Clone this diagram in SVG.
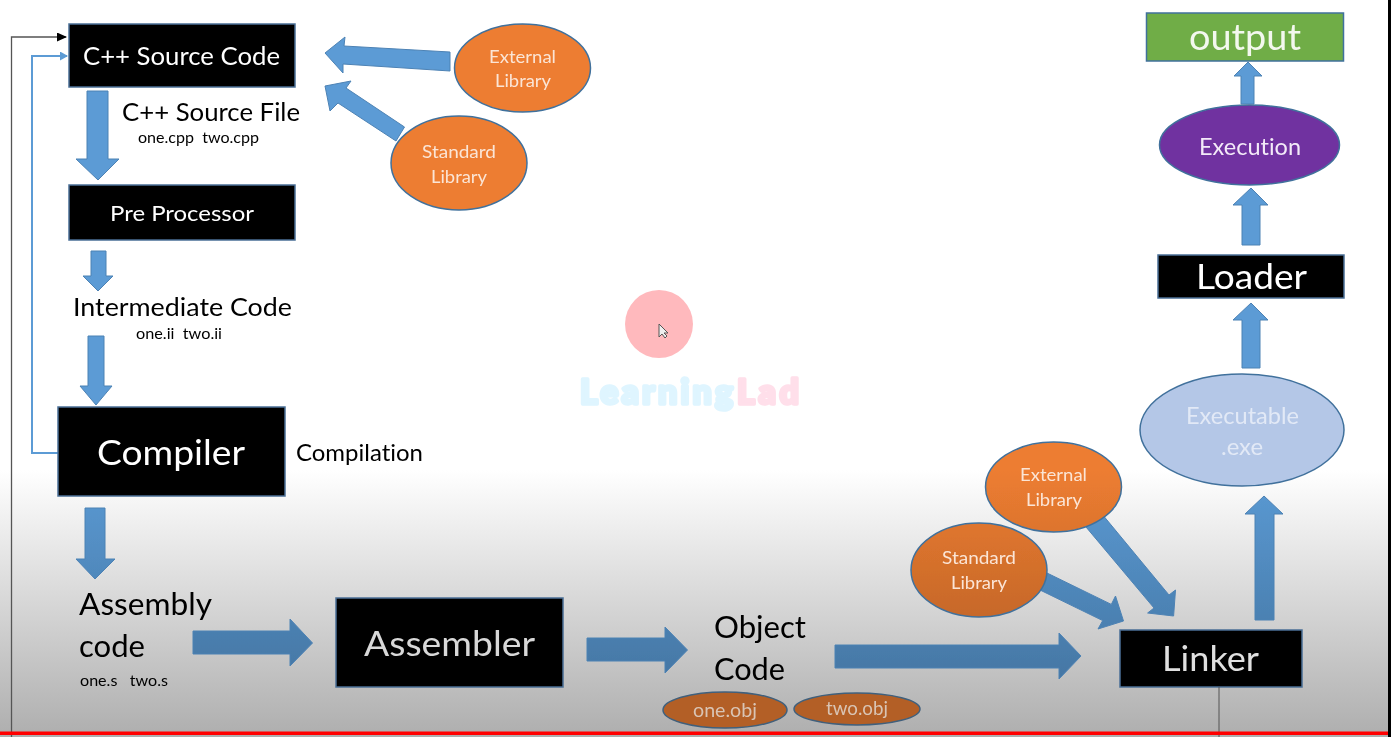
<svg xmlns="http://www.w3.org/2000/svg" width="1391" height="737" viewBox="0 0 1391 737">
<defs>
<linearGradient id="bg" x1="0" y1="0" x2="0" y2="1"><stop offset="0" stop-color="#ffffff"/><stop offset="0.638" stop-color="#ffffff"/><stop offset="1" stop-color="#aeaeae"/></linearGradient>
<linearGradient id="ag" gradientUnits="userSpaceOnUse" x1="0" y1="470" x2="0" y2="735"><stop offset="0" stop-color="#5b9bd5"/><stop offset="1" stop-color="#3f6d97"/></linearGradient>
<linearGradient id="og" gradientUnits="userSpaceOnUse" x1="0" y1="470" x2="0" y2="735"><stop offset="0" stop-color="#ed7d31"/><stop offset="1" stop-color="#a85823"/></linearGradient>
<filter id="soft" filterUnits="userSpaceOnUse" x="0" y="0" width="1391" height="737"><feGaussianBlur stdDeviation="0.45"/></filter>
<marker id="mk" markerWidth="10" markerHeight="9" refX="9" refY="4.500" orient="auto" markerUnits="userSpaceOnUse"><path d="M0 0L10 4.500L0 9Z" fill="#000"/></marker>
<marker id="mb" markerWidth="8" markerHeight="9" refX="7" refY="4.500" orient="auto" markerUnits="userSpaceOnUse"><path d="M0 0L8 4.500L0 9Z" fill="#5b9bd5"/></marker>
</defs>
<style>
text{font-family:"Lato","Liberation Sans",sans-serif;font-variant-ligatures:none;white-space:pre;text-anchor:start}
.box{fill:#000;stroke:#4a6f96;stroke-width:1.5}
.arr{fill:url(#ag);stroke:#4d82b4;stroke-width:1}
.org{fill:url(#og);stroke:#41719c;stroke-width:1.5}
.w{fill:#fff}.k{fill:#000}.lo{fill:#fbe5d6}
</style>
<rect width="1391" height="737" fill="url(#bg)"/>
<g filter="url(#soft)">
<g id="connectors">
<path d="M11.500 737V37H66" fill="none" stroke="#555" stroke-width="1.300" marker-end="url(#mk)"/>
<path d="M58 453H32V56H67" fill="none" stroke="#5b9bd5" stroke-width="2" marker-end="url(#mb)"/>
<path class="arr" d="M87 91H108V159H119L98 180L76 159H87Z"/>
<path class="arr" d="M91 251H106V276H113L98 291L83 276H91Z"/>
<path class="arr" d="M88 336H104V386H112L96 405L80 386H88Z"/>
<path class="arr" d="M85 508H105V559H115L95 579L76 559H85Z"/>
<path class="arr" d="M193 631H290V619L312.500 643L290 666V654H193Z"/>
<path class="arr" d="M587 638H665V627L687.500 650L665 673V661H587Z"/>
<path class="arr" d="M835 645H1059V633L1081 656L1059 679V668H835Z"/>
<path class="arr" d="M450 52L344 46L345 37L325 53L343 73L343 64L450 71Z"/>
<path class="arr" d="M404.500 127L346 88L351 81L325 86L330 111L338 103L396 141Z"/>
<path class="arr" d="M1047 573L1111.300 604.400L1115.500 596L1123.500 621L1098 629L1102.700 620.600L1040 590Z"/>
<path class="arr" d="M1102 514L1169 595L1175.500 590L1173.600 616L1147.600 613L1154 608L1086 527Z"/>
<path class="arr" d="M1255 620H1274V514H1283L1264 496L1245 514H1255Z"/>
<path class="arr" d="M1242 368H1260V320H1268L1251 303L1233 320H1242Z"/>
<path class="arr" d="M1242 245H1260V205H1268L1251 188L1233 205H1242Z"/>
<path class="arr" d="M1241 104H1254V76H1262L1248 62L1234 76H1241Z"/>
</g>
<g id="source"><rect class="box" x="69" y="24" width="226" height="63"/><text class="w" x="83" y="65" font-size="25" textLength="197" lengthAdjust="spacingAndGlyphs">C++ Source Code</text></g>
<g id="source-label"><text class="k" x="122" y="121" font-size="25" textLength="178" lengthAdjust="spacingAndGlyphs">C++ Source File</text><text class="k" x="138" y="143" font-size="15" textLength="121" lengthAdjust="spacingAndGlyphs">one.cpp  two.cpp</text></g>
<g id="external-top"><ellipse class="org" cx="522.500" cy="68" rx="68" ry="44"/><text class="lo" x="489" y="63" font-size="18" textLength="67" lengthAdjust="spacingAndGlyphs">External</text><text class="lo" x="495" y="87" font-size="18" textLength="56" lengthAdjust="spacingAndGlyphs">Library</text></g>
<g id="standard-top"><ellipse class="org" cx="459" cy="163" rx="68" ry="47"/><text class="lo" x="422" y="158" font-size="18" textLength="74" lengthAdjust="spacingAndGlyphs">Standard</text><text class="lo" x="431" y="183" font-size="18" textLength="56" lengthAdjust="spacingAndGlyphs">Library</text></g>
<g id="preprocessor"><rect class="box" x="69" y="185" width="226" height="55"/><text class="w" x="110" y="221" font-size="22" textLength="144" lengthAdjust="spacingAndGlyphs">Pre Processor</text></g>
<g id="intermediate"><text class="k" x="73" y="316" font-size="25" textLength="219" lengthAdjust="spacingAndGlyphs">Intermediate Code</text><text class="k" x="136" y="339" font-size="15" textLength="86" lengthAdjust="spacingAndGlyphs">one.ii  two.ii</text></g>
<g id="compiler"><rect class="box" x="58" y="407" width="227" height="89"/><text class="w" x="97" y="465" font-size="35" textLength="148" lengthAdjust="spacingAndGlyphs">Compiler</text></g>
<g id="compilation"><text class="k" x="296" y="461" font-size="23" textLength="127" lengthAdjust="spacingAndGlyphs">Compilation</text></g>
<g id="assembly"><text class="k" x="79" y="615" font-size="30" textLength="133" lengthAdjust="spacingAndGlyphs">Assembly</text><text class="k" x="79" y="657" font-size="30" textLength="66" lengthAdjust="spacingAndGlyphs">code</text><text class="k" x="80" y="686" font-size="15" textLength="88" lengthAdjust="spacingAndGlyphs">one.s   two.s</text></g>
<g id="assembler"><rect class="box" x="336" y="598" width="227" height="89"/><text fill="#d8d8d8" x="364" y="656" font-size="35" textLength="171" lengthAdjust="spacingAndGlyphs">Assembler</text></g>
<g id="object"><text class="k" x="714" y="638" font-size="30" textLength="92" lengthAdjust="spacingAndGlyphs">Object</text><text class="k" x="714" y="680" font-size="30" textLength="71" lengthAdjust="spacingAndGlyphs">Code</text></g>
<g id="one-obj"><ellipse cx="725" cy="710" rx="62" ry="18" fill="#b35f26" stroke="#41607c" stroke-width="1.500"/><text fill="#d9c4b4" x="693" y="717" font-size="19" textLength="64" lengthAdjust="spacingAndGlyphs">one.obj</text></g>
<g id="two-obj"><ellipse cx="857" cy="709" rx="63" ry="16" fill="#b35f26" stroke="#41607c" stroke-width="1.500"/><text fill="#d9c4b4" x="826" y="715" font-size="19" textLength="62" lengthAdjust="spacingAndGlyphs">two.obj</text></g>
<g id="standard-bottom"><ellipse class="org" cx="979" cy="570" rx="68" ry="47"/><text class="lo" x="942" y="564" font-size="18" textLength="74" lengthAdjust="spacingAndGlyphs">Standard</text><text class="lo" x="951" y="589" font-size="18" textLength="56" lengthAdjust="spacingAndGlyphs">Library</text></g>
<g id="external-bottom"><ellipse class="org" cx="1053.500" cy="487" rx="68" ry="45"/><text class="lo" x="1020" y="481" font-size="18" textLength="67" lengthAdjust="spacingAndGlyphs">External</text><text class="lo" x="1026" y="506" font-size="18" textLength="56" lengthAdjust="spacingAndGlyphs">Library</text></g>
<g id="linker"><rect class="box" x="1120" y="630" width="182" height="57"/><text fill="#e0e0e0" x="1162" y="671" font-size="35" textLength="97" lengthAdjust="spacingAndGlyphs">Linker</text><path d="M1219 687V737" stroke="#555" stroke-width="1" fill="none"/></g>
<g id="executable"><ellipse cx="1242" cy="430" rx="102" ry="56" fill="#b4c7e7" stroke="#41719c" stroke-width="1.500"/><text fill="#e2e9f6" x="1186" y="424" font-size="23" textLength="113" lengthAdjust="spacingAndGlyphs">Executable</text><text fill="#e2e9f6" x="1221" y="455" font-size="23" textLength="42" lengthAdjust="spacingAndGlyphs">.exe</text></g>
<g id="loader"><rect class="box" x="1158" y="255" width="186" height="43"/><text class="w" x="1196" y="289" font-size="34" textLength="111" lengthAdjust="spacingAndGlyphs">Loader</text></g>
<g id="execution"><ellipse cx="1249.500" cy="145" rx="90" ry="40" fill="#7030a0" stroke="#41719c" stroke-width="1.500"/><text fill="#f3eaf8" x="1199" y="155" font-size="23" textLength="102" lengthAdjust="spacingAndGlyphs">Execution</text></g>
<g id="output"><rect x="1146.500" y="13" width="197" height="48" fill="#70ad47" stroke="#41719c" stroke-width="1.500"/><text fill="#f3f8ee" x="1189" y="50" font-size="36" textLength="112" lengthAdjust="spacingAndGlyphs">output</text></g>
<g id="cursor-mark"><circle cx="659" cy="324" r="34" fill="#ffb9bd"/><path d="M659 324V337L662 334L665 338L667 336L664 333H668Z" fill="#eee" stroke="#555" stroke-width="1"/></g>
<g id="watermark" font-weight="900" font-size="34" stroke-width="3.500" stroke-linejoin="round"><text x="580" y="404" fill="#dff5ff" stroke="#dff5ff" textLength="153" lengthAdjust="spacing">Learning</text><text x="737" y="404" fill="#ffdfea" stroke="#ffdfea" textLength="62" lengthAdjust="spacing">Lad</text></g>
</g>
<rect id="bar" x="0" y="731.500" width="1391" height="3.500" fill="#f00"/>
<rect id="edge" x="1388" y="0" width="3" height="737" fill="#000"/>
</svg>
